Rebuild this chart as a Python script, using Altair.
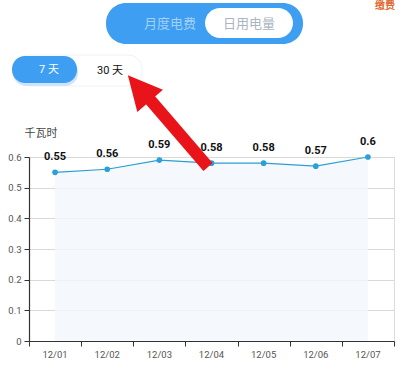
import altair as alt
import pandas as pd

dates = ["12/01", "12/02", "12/03", "12/04", "12/05", "12/06", "12/07"]
values = [0.55, 0.56, 0.59, 0.58, 0.58, 0.57, 0.6]
y_ticks = [0, 0.1, 0.2, 0.3, 0.4, 0.5, 0.6]

df = pd.DataFrame({"date": dates, "kwh": values})
df["pos"] = [i + 0.5 for i in range(len(dates))]

FONT = "Roboto, Noto Sans CJK SC"
W, H = 365, 184

xs = alt.Scale(domain=[0, len(dates)], nice=False, zero=False)
ys = alt.Scale(domain=[0, 0.6], nice=False)

xaxis = alt.Axis(values=list(range(len(dates) + 1)), labels=False, title=None,
                 grid=False, domainColor="#333", tickColor="#333",
                 tickSize=5, domainWidth=1.2)
yaxis = alt.Axis(values=y_ticks, tickCount=7, labelOverlap=False, title="千瓦时",
                 titleAngle=0, titleAlign="left",
                 titleBaseline="middle", titleX=-5, titleY=-24,
                 titleFont=FONT, titleFontSize=11, titleFontWeight="normal",
                 titleColor="#444", labelFont=FONT, labelFontSize=9.5,
                 labelColor="#555", labelPadding=3, tickSize=5,
                 tickColor="#333", domainColor="#333", domainWidth=1.2,
                 gridColor="#d9d9d9",
                 labelExpr="datum.value == 0 ? '0' : format(datum.value, '.1f')")

X = alt.X("pos:Q", scale=xs, axis=xaxis)
Y = alt.Y("kwh:Q", scale=ys, axis=yaxis)

base = alt.Chart(df)

area = base.mark_area(color="#f2f6fd", opacity=0.8).encode(x=X, y=Y)
line = base.mark_line(color="#2b9fd1", strokeWidth=1.2).encode(x=X, y=Y)
pts = base.mark_circle(color="#2a9fd8", size=32, opacity=1).encode(x=X, y=Y)
vals = base.mark_text(font=FONT, fontSize=11, fontWeight="bold", color="#111", dy=-15).encode(
    x=X, y=Y, text=alt.Text("kwh:Q"))
xlab = base.mark_text(font=FONT, fontSize=9.5, color="#555").encode(
    x=X, y=alt.value(H + 14), text="date:N")

one = alt.Chart(pd.DataFrame({"k": [0]}))

def rect(x, x2, y, y2, color, r, **kw):
    return one.mark_rect(color=color, cornerRadius=r, **kw).encode(
        x=alt.value(x), x2=alt.value(x2), y=alt.value(y), y2=alt.value(y2))

def txt(x, y, s, color, size, **kw):
    return one.mark_text(font=FONT, fontSize=size, color=color, **kw).encode(
        x=alt.value(x), y=alt.value(y), text=alt.value(s))

ox, oy = 29, 157  # plot origin in page pixels
deco = [
    rect(106 - ox, 303 - ox, 3 - oy, 44 - oy, "#3d9ef2", 20),
    rect(205 - ox, 293 - ox, 8 - oy, 38 - oy, "#ffffff", 15),
    txt(170 - ox, 24 - oy, "月度电费", "#a3d0f7", 13),
    txt(249 - ox, 24 - oy, "日用电量", "#aab5c2", 13),
    rect(16 - ox, 142 - ox, 55 - oy, 86 - oy, "#ffffff", 14, stroke="#eef1f5", strokeWidth=1),
    rect(13 - ox, 78 - ox, 59 - oy, 86 - oy, "#cfe4f9", 13),
    rect(12 - ox, 77 - ox, 56 - oy, 83 - oy, "#3d9ef2", 13),
    txt(49 - ox, 70 - oy, "7 天", "#ffffff", 11),
    txt(110 - ox, 71 - oy, "30 天", "#111111", 11),
    txt(385 - ox, 6 - oy, "缴费", "#e0662e", 10, fontWeight="bold"),
    one.mark_rule(color="#e8141a", strokeWidth=12, strokeCap="butt").encode(
        x=alt.value(146 - ox), y=alt.value(95 - oy), x2=alt.value(208 - ox), y2=alt.value(167 - oy)),
    one.mark_point(shape="M0,-1 L1,1 L-1,1 Z", filled=True, color="#e8141a", opacity=1,
                   size=1150, angle=319).encode(
        x=alt.value(139 - ox), y=alt.value(88 - oy)),
]

chart = alt.layer(area, line, pts, vals, xlab, *deco).properties(
    width=W, height=H,
    padding={"left": ox, "top": oy, "right": 410 - ox - W, "bottom": 384 - oy - H},
    autosize=alt.AutoSizeParams(type="none"),
).configure_view(stroke=None).configure(background="#ffffff")

chart.save("out.html", embed_options={"renderer": "svg", "actions": False})
